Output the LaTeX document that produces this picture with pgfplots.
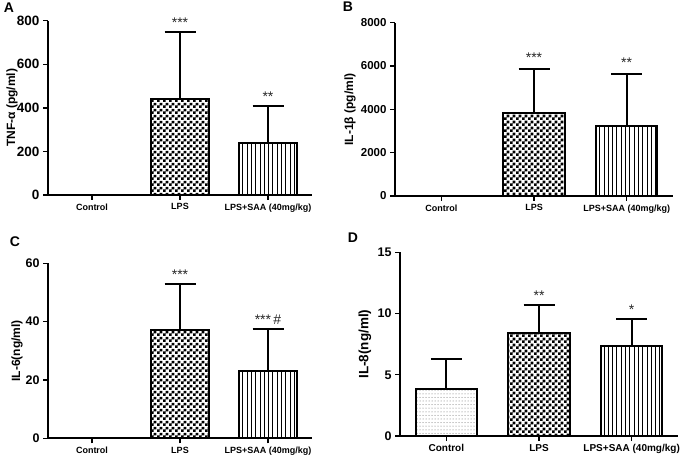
\documentclass[border=0pt]{standalone}
\usepackage{fontspec}
\setmainfont{Liberation Sans}
\usepackage{pgfplots}
\pgfplotsset{compat=1.18}
\usetikzlibrary{patterns}

\pgfdeclarepatternformonly{checks}{\pgfpointorigin}{\pgfqpoint{5.6pt}{5.6pt}}{\pgfqpoint{5.6pt}{5.6pt}}{%
 \pgfpathrectangle{\pgfpointorigin}{\pgfqpoint{2.8pt}{2.8pt}}%
 \pgfpathrectangle{\pgfqpoint{2.8pt}{2.8pt}}{\pgfqpoint{2.8pt}{2.8pt}}%
 \pgfusepath{fill}}
\pgfdeclarepatternformonly{vlines}{\pgfqpoint{0pt}{-0.5pt}}{\pgfqpoint{4.3pt}{10.5pt}}{\pgfqpoint{4.3pt}{10pt}}{%
 \pgfsetlinewidth{0.9pt}\pgfpathmoveto{\pgfqpoint{2pt}{-0.5pt}}\pgfpathlineto{\pgfqpoint{2pt}{10.5pt}}\pgfusepath{stroke}}
\pgfdeclarepatternformonly{sdots}{\pgfqpoint{-0.6pt}{-0.6pt}}{\pgfqpoint{0.6pt}{0.6pt}}{\pgfqpoint{3pt}{3.6pt}}{%
 \pgfpathcircle{\pgfpointorigin}{0.5pt}\pgfusepath{fill}}

\tikzset{star/.style={anchor=south, yshift=1pt, font=\fontsize{14}{16}\selectfont, text=black!85}}

\pgfplotsset{
  panel/.style={
    scale only axis, anchor=south west,
    axis x line*=bottom, axis y line*=left,
    axis line style={line width=1.8pt, -},
    tick style={line width=1.4pt, black},
    tick align=outside, major tick length=5pt,
    xmin=-0.5, xmax=2.5, xtick={0,1,2},
    xticklabels={Control,LPS,LPS+SAA (40mg/kg)},
    ymin=0,
    /pgf/number format/assume math mode=true,
    /pgf/number format/1000 sep={},
    yticklabel style={font=\bfseries\fontsize{11.5}{14}\selectfont},
    xticklabel style={font=\bfseries\fontsize{9}{11}\selectfont},
    ylabel style={font=\bfseries\fontsize{12}{14}\selectfont, anchor=center},
    clip=false,
  },
  ebar/.style={error bars/.cd, y dir=plus, y explicit,
    error bar style={line width=2pt, black, solid},
    error mark options={rotate=90, mark size=15.5pt, line width=2pt, black}},
  barstyle/.style={ybar, bar width=0.66, bar shift=0pt, draw=black, line width=2.1pt},
}

\begin{document}
\begin{tikzpicture}
\path[use as bounding box] (0,0) rectangle (685pt,455pt);

% Panel A
\begin{axis}[panel, at={(48pt,260pt)}, width=264pt, height=174.3pt,
  ymax=800, ytick={0,200,400,600,800},
  yticklabel style={font=\bfseries\fontsize{13.5}{15}\selectfont},
  ylabel={TNF-α (pg/ml)}, ylabel style={at={(axis description cs:-0.136,0.5)}}]
\addplot[barstyle, pattern=checks, ebar] coordinates {(1,440) +- (0,310)};
\addplot[barstyle, pattern=vlines, ebar] coordinates {(2,240) +- (0,170)};
\node[star] at (axis cs:1,750) {***};
\node[star] at (axis cs:2,410) {**};
\end{axis}

% Panel B
\begin{axis}[panel, at={(395pt,259pt)}, width=278pt, height=173.3pt,
  ymax=8000, ytick={0,2000,4000,6000,8000},
  ylabel={IL-1β (pg/ml)}, ylabel style={at={(axis description cs:-0.162,0.5)}}]
\addplot[barstyle, pattern=checks, ebar] coordinates {(1,3820) +- (0,2030)};
\addplot[barstyle, pattern=vlines, ebar] coordinates {(2,3230) +- (0,2390)};
\node[star, yshift=2pt] at (axis cs:1,5850) {***};
\node[star, yshift=2pt] at (axis cs:2,5620) {**};
\end{axis}

% Panel C
\begin{axis}[panel, at={(48pt,16.7pt)}, width=264pt, height=175pt,
  ymax=60, ytick={0,20,40,60},
  yticklabel style={font=\bfseries\fontsize{12.5}{14}\selectfont},
  ylabel={IL-6(ng/ml)}, ylabel style={at={(axis description cs:-0.117,0.5)}}]
\addplot[barstyle, pattern=checks, ebar] coordinates {(1,37.1) +- (0,15.7)};
\addplot[barstyle, pattern=vlines, ebar] coordinates {(2,23.2) +- (0,14.3)};
\node[star] at (axis cs:1,52.8) {***};
\node[star] at (axis cs:2,37.5) {***\,\#};
\end{axis}

% Panel D
\begin{axis}[panel, at={(400pt,19pt)}, width=278pt, height=183.7pt,
  ymax=15, ytick={0,5,10,15},
  yticklabel style={font=\bfseries\fontsize{12.5}{14}\selectfont},
  xticklabel style={font=\bfseries\fontsize{10}{12}\selectfont},
  ylabel={IL-8(ng/ml)}, ylabel style={at={(axis description cs:-0.126,0.5)}, font=\bfseries\fontsize{13.5}{15}\selectfont}]
\addplot[barstyle, pattern=sdots, pattern color=black!60, ebar] coordinates {(0,3.84) +- (0,2.45)};
\addplot[barstyle, pattern=checks, ebar] coordinates {(1,8.44) +- (0,2.26)};
\addplot[barstyle, pattern=vlines, ebar] coordinates {(2,7.37) +- (0,2.18)};
\node[star] at (axis cs:1,10.7) {**};
\node[star] at (axis cs:2,9.55) {*};
\end{axis}

\node[font=\bfseries\fontsize{14}{16}\selectfont] at (9pt,447pt) {A};
\node[font=\bfseries\fontsize{14}{16}\selectfont] at (348pt,448pt) {B};
\node[font=\bfseries\fontsize{14}{16}\selectfont] at (15pt,213pt) {C};
\node[font=\bfseries\fontsize{14}{16}\selectfont] at (353pt,217pt) {D};
\end{tikzpicture}
\end{document}
